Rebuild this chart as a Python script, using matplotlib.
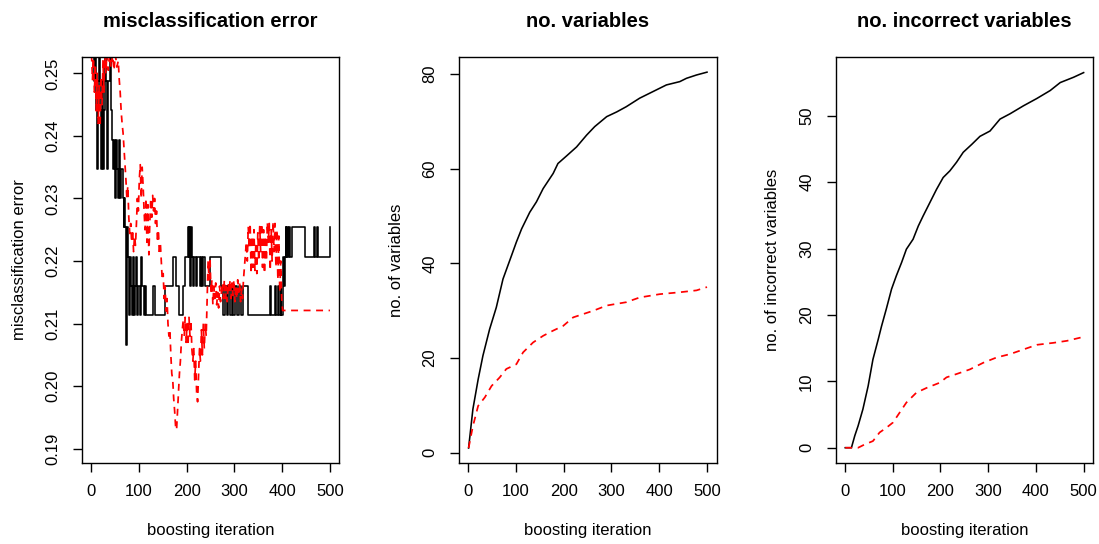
#============================================================
# plot.py  -- boosting path: error, no. variables, no. incorrect
#============================================================

import matplotlib
matplotlib.use("Agg")
import matplotlib.pyplot as plt

plt.rcParams['font.family'] = ['Liberation Sans', 'DejaVu Sans']

#------------------------------------------------------------
# misclassification error, black: (iteration, value) where it changes
err_blk_steps = [
    (1, 0.2535), (6, 0.2488), (8, 0.2535), (10, 0.2441), (12, 0.2347),
    (14, 0.2488), (17, 0.2535), (19, 0.2441), (21, 0.2347), (23, 0.2488),
    (25, 0.2347), (27, 0.2441), (29, 0.2535), (32, 0.2488), (34, 0.2347),
    (36, 0.2488), (39, 0.2535), (42, 0.2441), (44, 0.2394), (46, 0.2347),
    (48, 0.2394), (50, 0.2300), (52, 0.2394), (54, 0.2347), (56, 0.2300),
    (58, 0.2394), (61, 0.2300), (63, 0.2347), (66, 0.2300), (68, 0.2254),
    (70, 0.2300), (72, 0.2254), (74, 0.2066), (76, 0.2254), (78, 0.2207),
    (80, 0.2113), (82, 0.2207), (84, 0.2160), (86, 0.2113), (88, 0.2207),
    (90, 0.2113), (92, 0.2160), (95, 0.2207), (97, 0.2113), (99, 0.2160),
    (102, 0.2113), (104, 0.2207), (107, 0.2160), (110, 0.2113), (113, 0.2160),
    (115, 0.2113), (130, 0.2160), (134, 0.2113), (155, 0.2160), (171, 0.2207),
    (178, 0.2160), (184, 0.2113), (193, 0.2160), (197, 0.2207), (203, 0.2254),
    (205, 0.2207), (206, 0.2254), (208, 0.2160), (209, 0.2254), (211, 0.2207),
    (214, 0.2160), (216, 0.2207), (219, 0.2160), (221, 0.2207), (228, 0.2160),
    (230, 0.2207), (232, 0.2160), (235, 0.2207), (238, 0.2160), (249, 0.2207),
    (273, 0.2160), (277, 0.2113), (281, 0.2160), (284, 0.2113), (287, 0.2160),
    (291, 0.2113), (294, 0.2160), (298, 0.2113), (301, 0.2160), (305, 0.2113),
    (309, 0.2160), (313, 0.2113), (317, 0.2160), (329, 0.2113), (374, 0.2160),
    (376, 0.2113), (385, 0.2160), (387, 0.2113), (392, 0.2160), (394, 0.2113),
    (397, 0.2160), (398, 0.2113), (401, 0.2160), (402, 0.2207), (404, 0.2160),
    (405, 0.2207), (407, 0.2254), (409, 0.2207), (411, 0.2254), (413, 0.2207),
    (415, 0.2254), (417, 0.2207), (420, 0.2254), (447, 0.2207), (467, 0.2254),
    (469, 0.2207), (472, 0.2254), (475, 0.2207), (500, 0.2254),
]

# misclassification error, red dashed
err_red_pts = [
    (1, 0.2530), (3, 0.2490), (5, 0.2525), (7, 0.2470), (9, 0.2515),
    (11, 0.2440), (13, 0.2500), (15, 0.2420), (17, 0.2480), (19, 0.2415),
    (21, 0.2495), (23, 0.2450), (25, 0.2520), (27, 0.2470), (29, 0.2530),
    (31, 0.2500), (33, 0.2530), (36, 0.2505), (39, 0.2530), (42, 0.2510),
    (45, 0.2530), (48, 0.2505), (51, 0.2530), (54, 0.2510), (57, 0.2520),
    (59, 0.2490), (61, 0.2470), (63, 0.2440), (65, 0.2420), (67, 0.2405),
    (69, 0.2380), (71, 0.2356), (73, 0.2330), (75, 0.2300), (77, 0.2320),
    (79, 0.2270), (81, 0.2244), (83, 0.2260), (85, 0.2230), (87, 0.2250),
    (89, 0.2215), (91, 0.2240), (93, 0.2225), (95, 0.2260), (97, 0.2300),
    (99, 0.2280), (101, 0.2330), (103, 0.2354), (105, 0.2300), (107, 0.2350),
    (109, 0.2320), (111, 0.2280), (113, 0.2250), (115, 0.2300), (117, 0.2230),
    (119, 0.2290), (121, 0.2210), (123, 0.2260), (125, 0.2300), (127, 0.2270),
    (129, 0.2305), (131, 0.2280), (133, 0.2300), (135, 0.2260), (137, 0.2280),
    (139, 0.2230), (141, 0.2250), (143, 0.2210), (145, 0.2230), (147, 0.2200),
    (149, 0.2170), (151, 0.2180), (153, 0.2140), (155, 0.2160), (157, 0.2120),
    (159, 0.2140), (161, 0.2100), (163, 0.2080), (165, 0.2090), (167, 0.2050),
    (169, 0.2020), (171, 0.2010), (173, 0.1980), (175, 0.1960), (177, 0.1935),
    (179, 0.1930), (181, 0.1960), (183, 0.1990), (185, 0.2020), (187, 0.2040),
    (189, 0.2070), (191, 0.2090), (193, 0.2106), (195, 0.2080), (197, 0.2110),
    (199, 0.2070), (201, 0.2100), (203, 0.2065), (205, 0.2110), (207, 0.2080),
    (209, 0.2105), (211, 0.2060), (213, 0.2040), (215, 0.2060), (217, 0.2010),
    (219, 0.2040), (221, 0.1990), (223, 0.1975), (225, 0.2020), (227, 0.2060),
    (229, 0.2040), (231, 0.2090), (233, 0.2050), (235, 0.2100), (237, 0.2060),
    (239, 0.2100), (241, 0.2080), (243, 0.2140), (245, 0.2200), (247, 0.2170),
    (249, 0.2205), (251, 0.2150), (253, 0.2170), (255, 0.2130), (257, 0.2160),
    (259, 0.2140), (261, 0.2165), (263, 0.2130), (265, 0.2150), (267, 0.2125),
    (269, 0.2160), (271, 0.2135), (273, 0.2150), (275, 0.2165), (277, 0.2140),
    (279, 0.2170), (281, 0.2140), (283, 0.2160), (285, 0.2135), (287, 0.2165),
    (289, 0.2150), (291, 0.2170), (293, 0.2140), (295, 0.2165), (297, 0.2145),
    (299, 0.2170), (301, 0.2135), (303, 0.2160), (305, 0.2140), (307, 0.2170),
    (309, 0.2150), (311, 0.2165), (313, 0.2135), (315, 0.2155), (317, 0.2140),
    (319, 0.2170), (321, 0.2190), (323, 0.2210), (325, 0.2230), (327, 0.2200),
    (329, 0.2255), (331, 0.2220), (333, 0.2260), (335, 0.2180), (337, 0.2240),
    (339, 0.2190), (341, 0.2250), (343, 0.2185), (345, 0.2230), (347, 0.2180),
    (349, 0.2245), (351, 0.2200), (353, 0.2255), (355, 0.2215), (357, 0.2260),
    (359, 0.2190), (361, 0.2250), (363, 0.2180), (365, 0.2240), (367, 0.2200),
    (369, 0.2262), (371, 0.2230), (373, 0.2260), (375, 0.2185), (377, 0.2250),
    (379, 0.2200), (381, 0.2263), (383, 0.2215), (385, 0.2260), (387, 0.2190),
    (389, 0.2250), (391, 0.2170), (393, 0.2240), (395, 0.2150), (397, 0.2200),
    (399, 0.2140), (401, 0.2121), (500, 0.2121),
]

#------------------------------------------------------------
# no. variables
nvar_blk_it = [1, 10, 21, 31, 45, 59, 73, 91, 101, 112, 129, 143, 157, 178,
               188, 206, 227, 248, 265, 290, 311, 331, 359, 387, 415, 443,
               457, 478, 500]
nvar_blk = [1.0, 9.2, 15.5, 20.5, 26.1, 30.7, 36.7, 41.7, 44.5, 47.3, 50.8,
            53.0, 55.8, 59.0, 61.1, 62.7, 64.6, 67.1, 68.9, 71.0, 72.0, 73.1,
            74.9, 76.3, 77.7, 78.4, 79.1, 79.8, 80.4]

nvar_red_it = [1, 10, 21, 35, 49, 66, 80, 101, 115, 136, 157, 178, 199, 220,
               241, 262, 290, 331, 359, 401, 443, 478, 500]
nvar_red = [1.0, 5.6, 9.9, 11.7, 14.1, 15.9, 17.7, 18.7, 21.2, 23.3, 24.7,
            25.8, 26.8, 28.6, 29.3, 30.0, 31.1, 31.8, 32.8, 33.5, 33.9, 34.3,
            35.0]

# no. incorrect variables
ninc_blk_it = [1, 14, 21, 28, 38, 49, 59, 70, 77, 87, 98, 108, 119, 129, 143,
               154, 164, 178, 192, 206, 220, 234, 248, 266, 283, 304, 325,
               346, 374, 402, 430, 451, 479, 500]
ninc_blk = [0.0, 0.0, 1.8, 3.3, 5.8, 9.3, 13.3, 16.3, 18.3, 20.9, 23.9, 25.9,
            27.9, 29.9, 31.4, 33.4, 34.9, 36.9, 38.9, 40.7, 41.7, 43.0, 44.5,
            45.7, 46.9, 47.7, 49.5, 50.3, 51.5, 52.6, 53.8, 55.0, 55.8, 56.5]

ninc_red_it = [1, 14, 28, 42, 59, 73, 87, 101, 115, 129, 150, 171, 199, 213,
               234, 262, 290, 318, 346, 374, 402, 437, 465, 500]
ninc_red = [0.0, 0.0, 0.0, 0.5, 1.0, 2.3, 3.0, 3.8, 5.3, 6.8, 8.3, 9.0, 9.8,
            10.6, 11.1, 11.8, 12.8, 13.6, 14.1, 14.8, 15.5, 15.8, 16.1, 16.7]

#------------------------------------------------------------
titles = ["misclassification error", "no. variables", "no. incorrect variables"]
ylabels = ["misclassification error", "no. of variables", "no. of incorrect variables"]
xlabel = "boosting iteration"

fig = plt.figure(figsize=(10.99, 5.44), dpi=100)
lefts = [0.0746, 0.4177, 0.7604]
axs = [fig.add_axes([l, 0.1494, 0.2343, 0.7452]) for l in lefts]

RED = '#FF0000'
DASH = (4, 3.2)

def style(ax, title, ylab, yticks, ylim):
    ax.set_xlim(-18.96, 519.96)
    ax.set_ylim(*ylim)
    ax.set_xticks([0, 100, 200, 300, 400, 500])
    ax.set_yticks(yticks)
    ax.set_title(title, fontsize=14.5, fontweight='bold', pad=22)
    ax.set_xlabel(xlabel, fontsize=12)
    ax.set_ylabel(ylab, fontsize=12)
    ax.xaxis.set_label_coords(0.5, -0.148)
    ax.yaxis.set_label_coords(-0.215, 0.5)
    ax.tick_params(axis='both', direction='out', length=6.5, width=1.0,
                   labelsize=12, pad=9)
    ax.tick_params(axis='y', labelrotation=90)
    for s in ax.spines.values():
        s.set_linewidth(1.0)

ax = axs[0]
bx, by = zip(*err_blk_steps)
rx, ry = zip(*err_red_pts)
ax.plot(bx, by, color='black', lw=1.15, drawstyle='steps-post')
ax.plot(rx, ry, color=RED, lw=1.25, dashes=DASH)
style(ax, titles[0], ylabels[0], [0.19, 0.20, 0.21, 0.22, 0.23, 0.24, 0.25],
      (0.18776, 0.25256))
ax.set_yticklabels(["0.19", "0.20", "0.21", "0.22", "0.23", "0.24", "0.25"])

ax = axs[1]
ax.plot(nvar_blk_it, nvar_blk, color='black', lw=1.15)
ax.plot(nvar_red_it, nvar_red, color=RED, lw=1.25, dashes=DASH)
style(ax, titles[1], ylabels[1], [0, 20, 40, 60, 80], (-2.11, 83.53))

ax = axs[2]
ax.plot(ninc_blk_it, ninc_blk, color='black', lw=1.15)
ax.plot(ninc_red_it, ninc_red, color=RED, lw=1.25, dashes=DASH)
style(ax, titles[2], ylabels[2], [0, 10, 20, 30, 40, 50], (-2.26, 58.8))

for ax in axs:
    for lab in ax.get_yticklabels():
        lab.set_va('center')

fig.savefig("out.png", dpi=100)
